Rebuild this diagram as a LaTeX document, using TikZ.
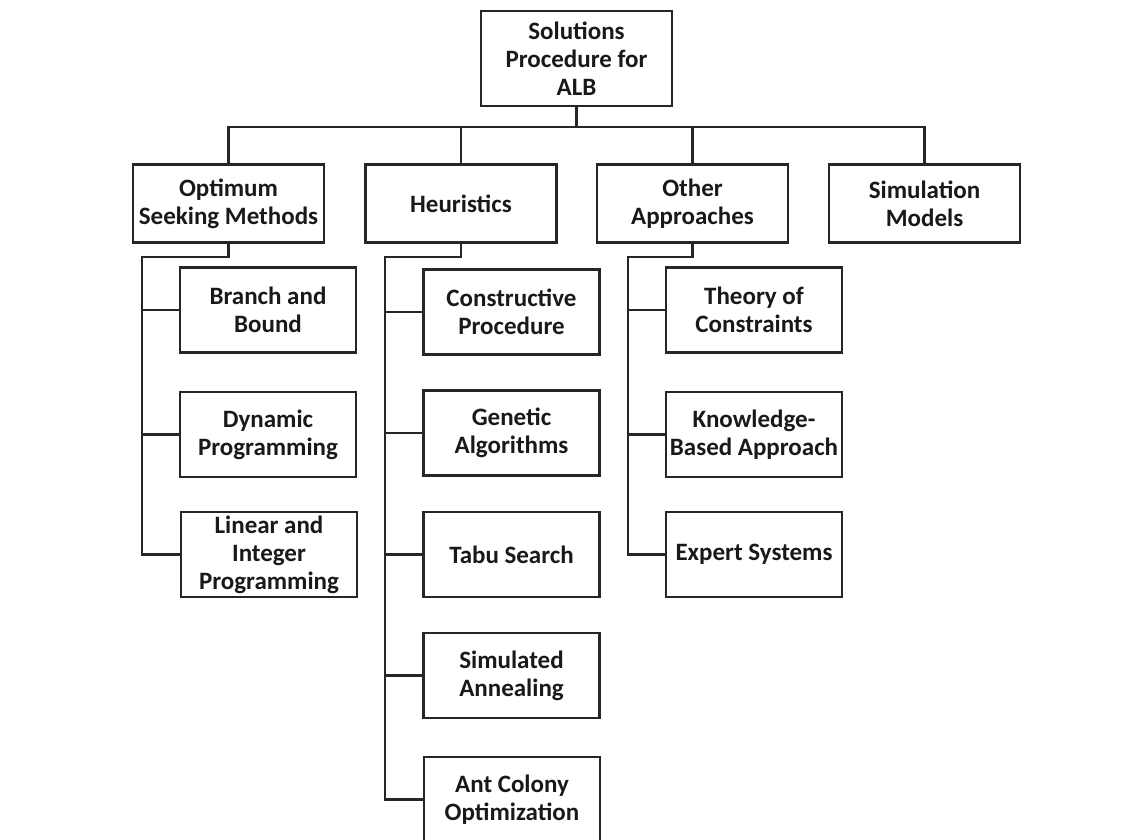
\documentclass[tikz,border=0pt]{standalone}
\usepackage{fontspec}
\setmainfont{Carlito}
\usepackage{tikz}

\tikzset{
  box/.style={draw=black!85, line width=2.2pt, align=center, text=black!90,
    font=\fontsize{25}{28}\selectfont\bfseries, inner sep=2pt},
  topbox/.style={box, minimum width=191pt, minimum height=78pt},
  subbox/.style={box, minimum width=176pt, minimum height=85pt},
  link/.style={draw=black!85, line width=2.2pt}
}

\begin{document}
\begin{tikzpicture}[x=1pt,y=-1pt]
\useasboundingbox (0,0) rectangle (1140,839);

% root and first level
\node[box, minimum width=191pt, minimum height=95pt] (root) at (576.5,58.5) {Solutions\\Procedure for\\ALB};
\node[topbox] (opt) at (228.5,203.5) {Optimum\\Seeking Methods};
\node[topbox] (heu) at (461,203.5) {Heuristics};
\node[topbox] (oth) at (692.5,203.5) {Other\\Approaches};
\node[topbox] (sim) at (924.5,203.5) {Simulation\\Models};

% optimum seeking methods
\node[subbox] (bb) at (268,310) {Branch and\\Bound};
\node[subbox] (dp) at (268,434.5) {Dynamic\\Programming};
\node[subbox] (lip) at (269,554.5) {Linear and\\Integer\\Programming};

% heuristics
\node[subbox] (cp) at (511.5,312) {Constructive\\Procedure};
\node[subbox] (ga) at (511.5,433) {Genetic\\Algorithms};
\node[subbox] (ts) at (511.5,554.5) {Tabu Search};
\node[subbox] (sa) at (511.5,675.5) {Simulated\\Annealing};
\node[subbox] (aco) at (512,799.5) {Ant Colony\\Optimization};

% other approaches
\node[subbox] (toc) at (754,310) {Theory of\\Constraints};
\node[subbox] (kba) at (754,434.5) {Knowledge-\\Based Approach};
\node[subbox] (es) at (754,554.5) {Expert Systems};

% connectors
\coordinate (bus) at (576.5,127);
\draw[link] (root.south) -- (bus);
\draw[link] (opt.north) |- (bus) -| (sim.north);
\draw[link] (heu.north) -- (heu.north |- bus);
\draw[link] (oth.north) -- (oth.north |- bus);

\coordinate (optk) at (142,257);
\coordinate (heuk) at (385,257);
\coordinate (othk) at (628,257);

\draw[link] (opt.south) |- (optk) |- (lip.west);
\foreach \n in {bb,dp}
  \draw[link] (optk |- \n.west) -- (\n.west);

\draw[link] (heu.south) |- (heuk) |- (aco.west);
\foreach \n in {cp,ga,ts,sa}
  \draw[link] (heuk |- \n.west) -- (\n.west);

\draw[link] (oth.south) |- (othk) |- (es.west);
\foreach \n in {toc,kba}
  \draw[link] (othk |- \n.west) -- (\n.west);
\end{tikzpicture}
\end{document}
